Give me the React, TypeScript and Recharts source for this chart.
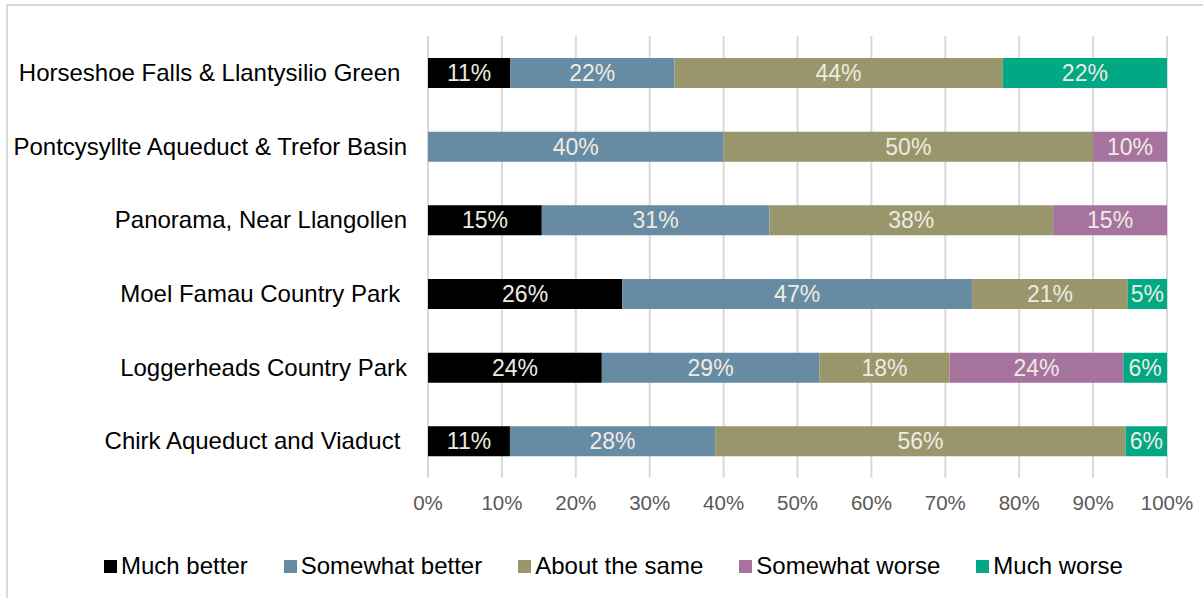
import React from "react";
import { BarChart, Bar, XAxis, YAxis, LabelList } from "recharts";

const sites = [
  "Horseshoe Falls & Llantysilio Green ",
  "Pontcysyllte Aqueduct & Trefor Basin",
  "Panorama, Near Llangollen",
  "Moel Famau Country Park ",
  "Loggerheads Country Park",
  "Chirk Aqueduct and Viaduct ",
];

const muchBetter = [11.1, 0, 15.4, 26.3, 23.5, 11.1];
const somewhatBetter = [22.2, 40, 30.8, 47.4, 29.4, 27.8];
const aboutSame = [44.4, 50, 38.4, 21.1, 17.6, 55.6];
const somewhatWorse = [0, 10, 15.4, 0, 23.5, 0];
const muchWorse = [22.2, 0, 0, 5.3, 5.9, 5.6];

const xTicks = [0, 0.1, 0.2, 0.3, 0.4, 0.5, 0.6, 0.7, 0.8, 0.9, 1];

const series = [
  { key: "muchBetter", name: "Much better", color: "#000000" },
  { key: "somewhatBetter", name: "Somewhat better", color: "#688BA4" },
  { key: "aboutSame", name: "About the same", color: "#99966B" },
  { key: "somewhatWorse", name: "Somewhat worse", color: "#A6739E" },
  { key: "muchWorse", name: "Much worse", color: "#00A884" },
];

const data = sites.map((site, i) => ({
  site,
  muchBetter: muchBetter[i],
  somewhatBetter: somewhatBetter[i],
  aboutSame: aboutSame[i],
  somewhatWorse: somewhatWorse[i],
  muchWorse: muchWorse[i],
}));

const FONT = "'Liberation Sans', Arial, sans-serif";
const W = 1203;
const H = 598;
const M = { top: 36, right: 36, bottom: 80, left: 0 };
const Y_AXIS_W = 428;
const X_AXIS_H = 40;
const plotLeft = M.left + Y_AXIS_W;
const plotW = W - plotLeft - M.right;
const plotBottom = H - M.bottom - X_AXIS_H;

function SiteTick(props: any) {
  const { x, y, payload } = props;
  return (
    <text
      x={x}
      y={y}
      dy={8}
      textAnchor="end"
      fill="#000"
      fontSize={24}
      fontFamily={FONT}
      style={{ whiteSpace: "pre" }}
    >
      {payload.value}
    </text>
  );
}

function PctTick(props: any) {
  const { x, y, payload } = props;
  return (
    <text x={x} y={y + 30} textAnchor="middle" fill="#595959" fontSize={20.5} fontFamily={FONT}>
      {Math.round(payload.value * 100) + "%"}
    </text>
  );
}

function SegLabel(props: any) {
  const { x, y, width, height, value } = props;
  if (!value) return null;
  return (
    <text
      x={x + width / 2}
      y={y + height / 2}
      dy={8}
      textAnchor="middle"
      fill="#EEEBE2"
      fontSize={23}
      fontFamily={FONT}
    >
      {Math.round(value) + "%"}
    </text>
  );
}

export default function App() {
  return (
    <div
      style={{
        position: "fixed",
        left: 0,
        top: 0,
        width: W,
        height: H,
        overflow: "hidden",
        background: "#fff",
        fontFamily: FONT,
      }}
    >
      <div
        style={{
          position: "absolute",
          left: 6,
          top: 4,
          width: 1300,
          height: 700,
          border: "2px solid #d9d9d9",
        }}
      />
      {/* vertical gridlines behind the bars, one per x tick */}
      <svg width={W} height={H} style={{ position: "absolute", left: 0, top: 0 }}>
        {xTicks.map((t) => (
          <line
            key={t}
            x1={plotLeft + t * plotW}
            x2={plotLeft + t * plotW}
            y1={M.top}
            y2={plotBottom}
            stroke="#d9d9d9"
            strokeWidth={2}
          />
        ))}
      </svg>
      <div style={{ position: "absolute", left: 0, top: 0 }}>
        <BarChart
          width={W}
          height={H}
          data={data}
          layout="vertical"
          stackOffset="expand"
          margin={M}
          barSize={30}
        >
          <XAxis
            type="number"
            domain={[0, 1]}
            ticks={xTicks}
            axisLine={false}
            tickLine={false}
            tickSize={0}
            height={X_AXIS_H}
            tick={<PctTick />}
            interval={0}
          />
          <YAxis
            type="category"
            dataKey="site"
            width={Y_AXIS_W}
            axisLine={false}
            tickLine={false}
            tickSize={0}
            tickMargin={21}
            tick={<SiteTick />}
            interval={0}
          />
          {series.map((s) => (
            <Bar
              key={s.key}
              dataKey={s.key}
              name={s.name}
              stackId="a"
              fill={s.color}
              isAnimationActive={false}
            >
              <LabelList dataKey={s.key} content={<SegLabel />} />
            </Bar>
          ))}
        </BarChart>
      </div>
      <div
        style={{
          position: "absolute",
          left: 104,
          top: 552,
          display: "flex",
          alignItems: "center",
          fontSize: 24,
          color: "#000",
          whiteSpace: "nowrap",
        }}
      >
        {series.map((s) => (
          <div key={s.key} style={{ display: "flex", alignItems: "center", marginRight: 36 }}>
            <span style={{ width: 13, height: 13, background: s.color, marginRight: 4, display: "inline-block" }} />
            <span>{s.name}</span>
          </div>
        ))}
      </div>
    </div>
  );
}
